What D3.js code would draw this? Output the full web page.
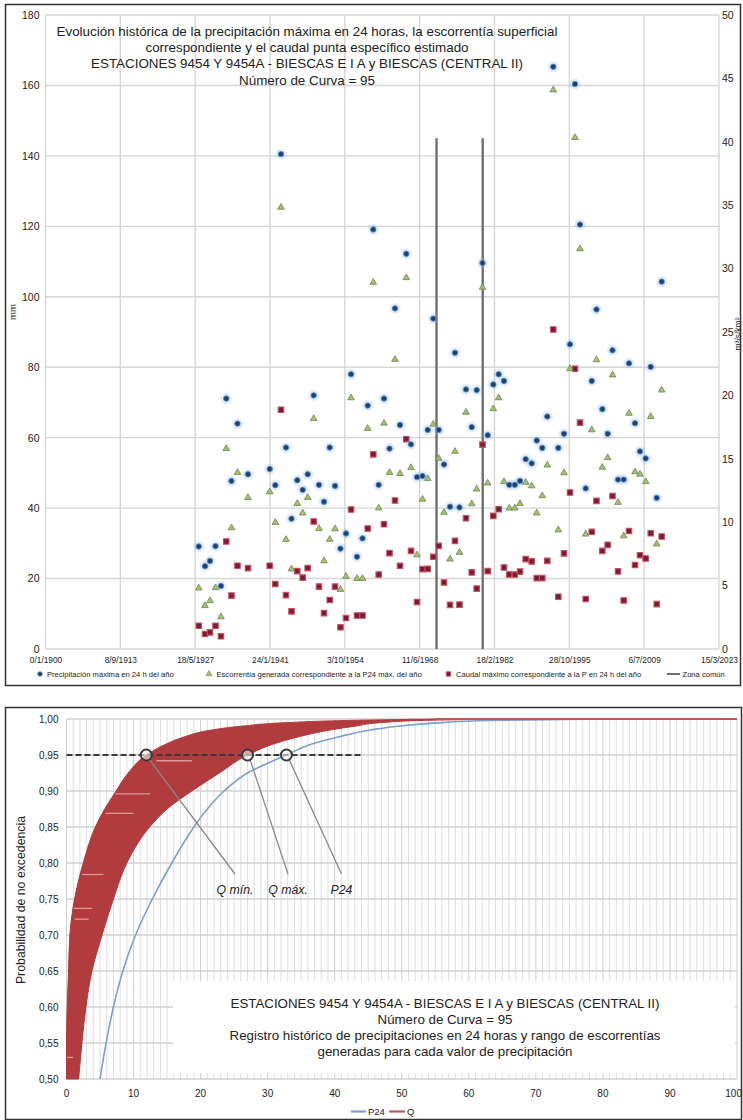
<!DOCTYPE html>
<html>
<head>
<meta charset="utf-8">
<script src="https://cdn.jsdelivr.net/npm/d3@7"></script>
<style>
  body { margin: 0; background: #fff; }
  svg { display: block; }
  text { font-family: "Liberation Sans", Arial, Helvetica, sans-serif; fill: #222; }
</style>
</head>
<body>
<svg id="chart" width="743" height="1120"></svg>
<script>
// ---------- Serie histórica anual (gráfico superior) ----------
// Fecha (año decimal) del máximo anual de precipitación en 24 h
const fechas = [1928.04, 1929.18, 1930.09, 1931.10, 1932.10, 1933.07, 1934.02, 1935.12, 1937.04, 1941.01,
  1942.04, 1943.08, 1943.99, 1945.00, 1946.06, 1947.05, 1947.96, 1949.06, 1950.03, 1950.95,
  1951.99, 1952.96, 1953.96, 1954.97, 1955.89, 1956.98, 1957.99, 1958.94, 1959.96, 1960.95,
  1961.92, 1962.93, 1963.93, 1964.85, 1966.00, 1966.86, 1967.96, 1968.96, 1969.92, 1970.94,
  1971.93, 1972.90, 1974.00, 1974.91, 1975.73, 1976.92, 1977.97, 1978.88, 1979.94, 1980.89,
  1981.92, 1982.90, 1983.87, 1984.84, 1985.85, 1986.80, 1987.84, 1988.94, 1989.86, 1990.88,
  1991.79, 1992.89, 1993.81, 1994.85, 1995.95, 1996.86, 1997.78, 1998.82, 1999.92, 2000.79,
  2001.86, 2002.84, 2003.72, 2004.73, 2005.77, 2006.74, 2007.84, 2008.75, 2009.79, 2010.71,
  2011.81, 2012.72];

// Precipitación máxima en 24 h del año (mm)
const p24 = [29.1, 23.5, 25.0, 29.2, 17.9, 71.1, 47.7, 64.0, 49.6, 51.1,
  46.5, 140.5, 57.2, 37.0, 47.9, 45.2, 49.6, 72.0, 46.6, 41.8,
  57.2, 46.3, 28.5, 32.8, 78.0, 26.2, 31.4, 69.1, 119.1, 46.6,
  71.1, 56.9, 96.7, 63.6, 112.2, 58.1, 48.8, 49.1, 62.2, 93.8,
  62.2, 52.4, 40.4, 84.1, 40.2, 73.7, 63.0, 73.5, 109.6, 60.7,
  75.1, 78.0, 76.1, 46.6, 46.6, 47.7, 53.9, 52.7, 59.2, 57.1,
  66.0, 165.3, 57.1, 61.1, 86.5, 160.4, 120.5, 45.6, 76.1, 96.4,
  68.1, 61.1, 84.8, 48.1, 48.1, 81.1, 64.1, 56.1, 54.1, 80.1,
  42.9, 104.3];

// Escorrentía generada correspondiente a la P24 máxima del año (mm)
const escorrentia = [17.3, 12.3, 13.7, 17.4, 9.1, 56.9, 34.4, 50.1, 43.0, 44.6,
  35.9, 125.4, 31.1, 22.7, 41.3, 38.6, 43.0, 65.4, 34.2, 25.0,
  31.1, 34.1, 16.9, 20.6, 71.3, 20.0, 20.0, 62.6, 104.1, 40.0,
  64.1, 50.1, 82.2, 49.8, 105.4, 51.5, 26.7, 42.5, 48.4, 63.8,
  54.1, 38.8, 25.5, 56.1, 27.4, 67.2, 41.2, 45.4, 102.7, 47.1,
  68.2, 71.3, 47.5, 40.0, 40.0, 41.3, 47.3, 46.3, 38.6, 43.5,
  52.2, 158.7, 33.8, 50.0, 79.6, 145.2, 113.6, 32.6, 62.2, 82.1,
  51.6, 54.3, 77.8, 41.6, 32.1, 66.9, 50.3, 49.6, 47.5, 66.0,
  29.8, 73.5];

// Caudal máximo específico correspondiente (m3/s/km2, eje derecho)
const caudal = [1.83, 1.18, 1.31, 1.83, 1.00, 8.48, 4.21, 6.57, 6.38, 6.57,
  5.12, 18.87, 4.25, 2.97, 6.14, 5.63, 6.38, 10.06, 4.92, 2.83,
  3.87, 4.92, 1.71, 2.44, 11.00, 2.64, 2.64, 9.50, 15.35, 5.87,
  9.84, 7.56, 11.71, 6.56, 16.54, 7.74, 3.70, 6.30, 6.32, 7.27,
  8.13, 5.25, 3.48, 8.53, 3.50, 10.31, 6.04, 4.76, 16.12, 6.14,
  10.50, 11.02, 6.43, 5.88, 5.87, 6.10, 7.09, 6.91, 5.59, 5.59,
  6.95, 25.20, 4.12, 7.54, 12.34, 22.10, 17.85, 3.94, 9.24, 11.68,
  7.74, 8.21, 12.07, 6.12, 3.83, 9.31, 6.63, 7.40, 7.14, 9.13,
  3.54, 8.87];

// Límites de la zona común entre estaciones (año decimal) y altura de las marcas (mm)
const zonaComun = [1971.53, 1979.98];
const zonaComunAltura = 145;

// Eje de fechas (número de serie de fecha de hoja de cálculo) y sus etiquetas
const fechaTicks = [0, 5000, 10000, 15000, 20000, 25000, 30000, 35000, 40000, 45000];
const fechaEtiquetas = ["0/1/1900", "8/9/1913", "18/5/1927", "24/1/1941", "3/10/1954",
  "11/6/1968", "18/2/1982", "28/10/1995", "6/7/2009", "15/3/2023"];
const mmTicks = [0, 20, 40, 60, 80, 100, 120, 140, 160, 180];
const caudalTicks = [0, 5, 10, 15, 20, 25, 30, 35, 40, 45, 50];

// ---------- Curvas de probabilidad de no excedencia (gráfico inferior) ----------
const probs = [0.50, 0.55, 0.60, 0.65, 0.70, 0.75, 0.80, 0.85, 0.875, 0.90,
  0.925, 0.95, 0.965, 0.975, 0.985, 0.99, 0.995, 0.998, 1.0];
const curvaP24 = [5.0, 5.9, 7.0, 8.4, 10.3, 12.8, 15.7, 19.0, 21.0, 23.5,
  27.0, 32.8, 36.5, 40.5, 45.5, 49.5, 56.0, 63.0, 80.0];
const curvaQmin = [0, 0, 0.1, 0.3, 0.5, 1.2, 2.5, 4.3, 5.7, 7.4,
  9.2, 11.9, 14.8, 17.5, 21.8, 26.0, 33.0, 42.0, 55.0];
const curvaQmax = [1.8, 2.3, 2.9, 3.8, 5.3, 7.0, 9.0, 12.4, 15.0, 18.7,
  22.8, 27.0, 30.8, 34.5, 39.5, 43.0, 47.0, 53.0, 65.0];
// Trazos claros dentro de la banda Q (probabilidad, escorrentía inicial y final)
const trazosBanda = [
  { p: 0.942, a: 13.4, b: 18.7 },
  { p: 0.896, a: 7.3, b: 12.5 },
  { p: 0.869, a: 5.8, b: 10.0 },
  { p: 0.784, a: 2.3, b: 5.5 },
  { p: 0.737, a: 1.1, b: 3.8 },
  { p: 0.722, a: 1.2, b: 3.3 },
  { p: 0.530, a: 0.1, b: 1.0 }
];
const probReferencia = 0.95;
const probTicks = [0.50, 0.55, 0.60, 0.65, 0.70, 0.75, 0.80, 0.85, 0.90, 0.95, 1.00];
const valorTicks = [0, 10, 20, 30, 40, 50, 60, 70, 80, 90, 100];

// ---------- Dibujo ----------
const svg = d3.select("#chart");
const es = d3.formatLocale({ decimal: ",", thousands: ".", grouping: [3], currency: ["", " €"] });

// Marcos de ambos gráficos
svg.append("rect").attr("x", 5.5).attr("y", 4.5).attr("width", 735).attr("height", 681)
  .attr("fill", "#fff").attr("stroke", "#333").attr("stroke-width", 1.5);
svg.append("rect").attr("x", 5.5).attr("y", 707.5).attr("width", 736).attr("height", 412)
  .attr("fill", "#fff").attr("stroke", "#333").attr("stroke-width", 1.5);

// ===== Gráfico superior =====
const T = { left: 45.5, right: 719, top: 15, bottom: 649 };
const xT = d3.scaleLinear().domain([0, 45000]).range([T.left, T.right]);
const yL = d3.scaleLinear().domain([0, 180]).range([T.bottom, T.top]);
const yR = d3.scaleLinear().domain([0, 50]).range([T.bottom, T.top]);
const serie = a => (a - 1900) * 365.25;

const gTop = svg.append("g");
gTop.append("g").selectAll("line").data(fechaTicks).join("line")
  .attr("x1", d => xT(d)).attr("x2", d => xT(d)).attr("y1", T.top).attr("y2", T.bottom)
  .attr("stroke", "#d6d6d6").attr("stroke-width", 1.4);
gTop.append("g").selectAll("line").data(mmTicks).join("line")
  .attr("x1", T.left).attr("x2", T.right).attr("y1", d => yL(d)).attr("y2", d => yL(d))
  .attr("stroke", "#d6d6d6").attr("stroke-width", 1.4);

// Ejes
const axL = gTop.append("g").attr("transform", `translate(${T.left},0)`)
  .call(d3.axisLeft(yL).tickValues(mmTicks).tickSize(0).tickPadding(6));
const axR = gTop.append("g").attr("transform", `translate(${T.right},0)`)
  .call(d3.axisRight(yR).tickValues(caudalTicks).tickSize(0).tickPadding(3));
const axB = gTop.append("g").attr("transform", `translate(0,${T.bottom})`)
  .call(d3.axisBottom(xT).tickValues(fechaTicks).tickFormat((d, i) => fechaEtiquetas[i]).tickSize(0).tickPadding(8));
[axL, axR, axB].forEach(a => {
  a.select(".domain").remove();
  a.selectAll("text").attr("fill", "#222").style("font-family", '"Liberation Sans", Arial, sans-serif');
});
axL.selectAll("text").style("font-size", "10.5px");
axR.selectAll("text").style("font-size", "10.5px");
axB.selectAll("text").style("font-size", "8.3px");

gTop.append("text").attr("transform", `translate(16,312) rotate(-90)`).attr("text-anchor", "middle")
  .style("font-size", "9.5px").text("mm");
gTop.append("text").attr("transform", `translate(740.5,334) rotate(-90)`).attr("text-anchor", "middle")
  .style("font-size", "8.5px").text("m³/s/km²");

// Título
const titulo = ["Evolución histórica de la precipitación máxima en 24 horas, la escorrentía superficial",
  "correspondiente y el caudal punta específico estimado",
  "ESTACIONES 9454 Y 9454A - BIESCAS E I A y BIESCAS (CENTRAL II)",
  "Número de Curva = 95"];
gTop.append("g").selectAll("text").data(titulo).join("text")
  .attr("x", 307).attr("y", (d, i) => 35.5 + i * 16.4).attr("text-anchor", "middle")
  .style("font-size", "13.4px").text(d => d);

// Zona común
gTop.append("g").selectAll("line").data(zonaComun).join("line")
  .attr("x1", d => xT(serie(d))).attr("x2", d => xT(serie(d)))
  .attr("y1", yL(0)).attr("y2", yL(zonaComunAltura))
  .attr("stroke", "#6f6f6f").attr("stroke-width", 2.4);

const filas = fechas.map((f, i) => ({ f, p: p24[i], e: escorrentia[i], c: caudal[i] }));
const tri = d3.symbol(d3.symbolTriangle).size(19);
const sq = d3.symbol(d3.symbolSquare).size(30);

// Caudal (eje derecho)
gTop.append("g").selectAll("path").data(filas).join("path")
  .attr("d", sq).attr("transform", d => `translate(${xT(serie(d.f))},${yR(d.c)})`)
  .attr("fill", "#7c1a36").attr("stroke", "#c9505e").attr("stroke-width", 1.1);
// Escorrentía
gTop.append("g").selectAll("path").data(filas).join("path")
  .attr("d", tri).attr("transform", d => `translate(${xT(serie(d.f))},${yL(d.e)})`)
  .attr("fill", "#a5c36b").attr("stroke", "#6e7f57").attr("stroke-width", 0.8);
// Precipitación máxima en 24 h
const gP = gTop.append("g");
gP.selectAll("circle.h").data(filas).join("circle").attr("class", "h")
  .attr("cx", d => xT(serie(d.f))).attr("cy", d => yL(d.p)).attr("r", 5.5)
  .attr("fill", "#8ab8e4").attr("opacity", 0.25);
gP.selectAll("circle.m").data(filas).join("circle").attr("class", "m")
  .attr("cx", d => xT(serie(d.f))).attr("cy", d => yL(d.p)).attr("r", 2.7)
  .attr("fill", "#223f6c").attr("stroke", "#4f8cc9").attr("stroke-width", 1);

// Leyenda superior
const ly = 674;
const ley = gTop.append("g").style("font-size", "7.6px");
ley.append("circle").attr("cx", 40).attr("cy", ly).attr("r", 2.3).attr("fill", "#223f6c").attr("stroke", "#4f8cc9").attr("stroke-width", 0.8);
ley.append("text").attr("x", 47).attr("y", ly + 2.7).text("Precipitación máxima en 24 h del año");
ley.append("path").attr("d", d3.symbol(d3.symbolTriangle).size(16)).attr("transform", `translate(209,${ly})`)
  .attr("fill", "#a5c36b").attr("stroke", "#6e7f57").attr("stroke-width", 0.6);
ley.append("text").attr("x", 216.5).attr("y", ly + 2.7).text("Escorrentía generada correspondiente a la P24 máx. del año");
ley.append("path").attr("d", d3.symbol(d3.symbolSquare).size(20)).attr("transform", `translate(448.5,${ly})`)
  .attr("fill", "#7c1a36").attr("stroke", "#c9505e").attr("stroke-width", 0.8);
ley.append("text").attr("x", 456).attr("y", ly + 2.7).text("Caudal máximo correspondiente a la P en 24 h del año");
ley.append("line").attr("x1", 667).attr("x2", 680).attr("y1", ly).attr("y2", ly).attr("stroke", "#6f6f6f").attr("stroke-width", 2);
ley.append("text").attr("x", 682.5).attr("y", ly + 2.7).text("Zona común");

// ===== Gráfico inferior =====
const B = { left: 66.5, right: 737, top: 719, bottom: 1079 };
const xB = d3.scaleLinear().domain([0, 100]).range([B.left, B.right]);
const yB = d3.scaleLinear().domain([0.5, 1]).range([B.bottom, B.top]);
const gBot = svg.append("g");

gBot.append("g").selectAll("line").data(d3.range(0, 101, 1)).join("line")
  .attr("x1", d => xB(d)).attr("x2", d => xB(d)).attr("y1", B.top).attr("y2", B.bottom)
  .attr("stroke", d => d % 10 === 0 ? "#cfcfcf" : "#dedede").attr("stroke-width", 1);
gBot.append("g").selectAll("line").data(probTicks).join("line")
  .attr("x1", B.left).attr("x2", B.right).attr("y1", d => yB(d)).attr("y2", d => yB(d))
  .attr("stroke", "#d0d0d0").attr("stroke-width", 1.4);

// Caja del texto descriptivo
gBot.append("rect").attr("x", 173).attr("y", 981).attr("width", 562).attr("height", 92).attr("fill", "#fff");

const curvas = probs.map((p, i) => ({ p, p24: curvaP24[i], qmin: curvaQmin[i], qmax: curvaQmax[i] }));
const ult = curvas[curvas.length - 1];

// P24
gBot.append("path").datum(curvas)
  .attr("d", d3.line().x(d => xB(d.p24)).y(d => yB(d.p)).curve(d3.curveMonotoneY))
  .attr("fill", "none").attr("stroke", "#7d9fcb").attr("stroke-width", 1.6);
gBot.append("line").attr("x1", xB(ult.p24)).attr("x2", xB(100)).attr("y1", yB(ult.p)).attr("y2", yB(ult.p))
  .attr("stroke", "#7d9fcb").attr("stroke-width", 1.6);

// Banda de escorrentías Q
gBot.append("path").datum(curvas)
  .attr("d", d3.area().y(d => yB(d.p)).x0(d => xB(d.qmin)).x1(d => xB(d.qmax)).curve(d3.curveMonotoneY))
  .attr("fill", "#b13b3d").attr("stroke", "#b13b3d").attr("stroke-width", 1);
gBot.append("g").selectAll("line").data(trazosBanda).join("line")
  .attr("x1", d => xB(d.a)).attr("x2", d => xB(d.b)).attr("y1", d => yB(d.p)).attr("y2", d => yB(d.p))
  .attr("stroke", "#e6a8a8").attr("stroke-width", 1.3).attr("opacity", 0.85);
gBot.append("line").attr("x1", xB(ult.qmin)).attr("x2", xB(100)).attr("y1", yB(ult.p)).attr("y2", yB(ult.p))
  .attr("stroke", "#c0585a").attr("stroke-width", 1.8);

// Línea de referencia al 95 %
const iRef = probs.indexOf(probReferencia);
gBot.append("line").attr("x1", xB(0)).attr("x2", xB(44)).attr("y1", yB(probReferencia)).attr("y2", yB(probReferencia))
  .attr("stroke", "#3a3a3a").attr("stroke-width", 2).attr("stroke-dasharray", "6,3");

const marcas = [
  { v: curvaQmin[iRef], t: "Q mín.", lx: 235 },
  { v: curvaQmax[iRef], t: "Q máx.", lx: 288 },
  { v: curvaP24[iRef], t: "P24", lx: 341.5 }
];
gBot.append("g").selectAll("line").data(marcas).join("line")
  .attr("x1", d => xB(d.v) + 2).attr("y1", yB(probReferencia) + 3)
  .attr("x2", d => d.lx).attr("y2", 874)
  .attr("stroke", "#888").attr("stroke-width", 1.3);
gBot.append("g").selectAll("circle").data(marcas).join("circle")
  .attr("cx", d => xB(d.v)).attr("cy", yB(probReferencia)).attr("r", 5.5)
  .attr("fill", "rgba(255,255,255,0.55)").attr("stroke", "#3a3a3a").attr("stroke-width", 2);
gBot.append("g").selectAll("text").data(marcas).join("text")
  .attr("x", d => d.lx).attr("y", 894).attr("text-anchor", "middle")
  .style("font-size", "12.3px").style("font-style", "italic").text(d => d.t);

// Ejes inferiores
const fmt2 = es.format(".2f");
gBot.append("g").selectAll("text").data(probTicks).join("text")
  .attr("x", 58.5).attr("y", d => yB(d) + 3.5).attr("text-anchor", "end")
  .style("font-size", "10px").text(d => fmt2(d));
gBot.append("g").selectAll("text").data(valorTicks).join("text")
  .attr("x", d => d === 100 ? 742 : xB(d)).attr("y", 1097)
  .attr("text-anchor", d => d === 100 ? "end" : "middle")
  .style("font-size", "10px").text(d => d);
gBot.append("text").attr("transform", "translate(25,900) rotate(-90)").attr("text-anchor", "middle")
  .style("font-size", "12.3px").text("Probabilidad de no excedencia");

// Texto descriptivo
const nota = ["ESTACIONES 9454 Y 9454A - BIESCAS E I A y BIESCAS (CENTRAL II)",
  "Número de Curva = 95",
  "Registro histórico de precipitaciones en 24 horas y rango de escorrentías",
  "generadas para cada valor de precipitación"];
gBot.append("g").selectAll("text").data(nota).join("text")
  .attr("x", 445).attr("y", (d, i) => 1007.8 + i * 16.1).attr("text-anchor", "middle")
  .style("font-size", "13.3px").text(d => d);

// Leyenda inferior
const lb = 1111.5;
gBot.append("line").attr("x1", 351).attr("x2", 366).attr("y1", lb).attr("y2", lb).attr("stroke", "#7d9fcb").attr("stroke-width", 2.2);
gBot.append("text").attr("x", 368).attr("y", lb + 3.3).style("font-size", "9.5px").text("P24");
gBot.append("line").attr("x1", 389).attr("x2", 405).attr("y1", lb).attr("y2", lb).attr("stroke", "#c0585a").attr("stroke-width", 2.2);
gBot.append("text").attr("x", 407).attr("y", lb + 3.3).style("font-size", "9.5px").text("Q");
</script>
</body>
</html>
